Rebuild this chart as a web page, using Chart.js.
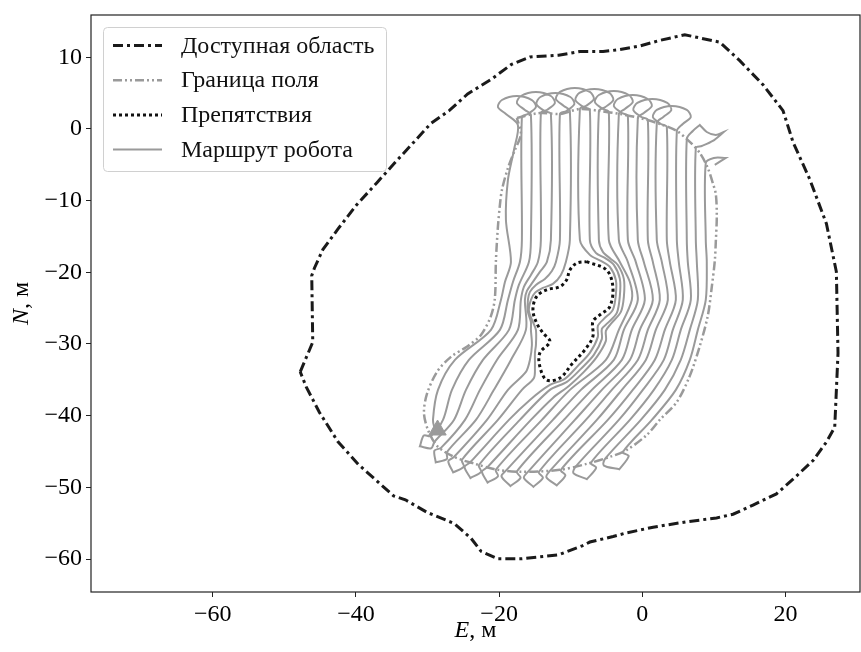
<!DOCTYPE html>
<html>
<head>
<meta charset="utf-8">
<script src="https://cdn.jsdelivr.net/npm/chart.js@4.4.1/dist/chart.umd.min.js"></script>
<style>
  body { margin: 0; background: #fff; }
  canvas { display: block; }
</style>
</head>
<body>
<canvas id="chart" width="861" height="652"></canvas>
<script>
// axis ticks
const xTicks = [-60, -40, -20, 0, 20];
const yTicks = [10, 0, -10, -20, -30, -40, -50, -60];
const legendLabels = ["Доступная область", "Граница поля", "Препятствия", "Маршрут робота"];

// [E, N] in metres
const accessArea = [
  [-47.78,-33.88],[-46.03,-29.74],[-46.17,-20.45],[-45.79,-19.39],[-44.62,-16.82],[-42.50,-13.95],
  [-39.92,-10.60],[-37.10,-7.53],[-34.54,-4.69],[-31.92,-1.84],[-29.56,0.74],[-26.98,2.55],
  [-24.40,4.88],[-21.10,6.93],[-18.28,9.01],[-15.70,10.04],[-11.70,10.29],[-8.72,10.81],
  [-5.47,10.81],[-3.14,11.07],[-0.35,11.58],[2.44,12.36],[5.93,13.14],[10.82,12.11],
  [13.61,9.53],[16.86,6.16],[19.65,2.55],[21.05,-1.84],[23.38,-7.02],[25.71,-13.21],
  [27.10,-19.93],[27.33,-31.28],[26.87,-41.62],[25.71,-43.68],[23.84,-46.26],[21.05,-48.86],
  [18.73,-50.91],[15.46,-52.47],[12.67,-53.75],[10.36,-54.27],[6.17,-54.80],[1.51,-55.56],
  [-2.21,-56.35],[-4.08,-56.86],[-7.33,-57.63],[-8.40,-58.16],[-11.70,-59.41],[-16.86,-59.97],
  [-20.15,-59.97],[-22.51,-58.93],[-23.92,-57.11],[-26.27,-55.05],[-30.04,-53.50],[-33.09,-51.74],
  [-34.74,-51.19],[-37.10,-49.09],[-39.68,-46.78],[-42.50,-43.65],[-45.09,-39.55],[-46.96,-35.94]
];

const fieldBorder = [
  [-17.52,1.53],[-14.31,2.23],[-11.51,2.09],[-8.72,2.79],[-5.93,2.51],[-3.14,2.09],[-0.35,1.53],
  [2.44,0.70],[4.82,-0.28],[6.63,-1.81],[8.03,-3.35],[9.14,-5.44],[9.84,-7.53],[10.26,-9.07],
  [10.40,-12.13],[10.26,-15.76],[10.12,-18.41],[9.70,-22.04],[9.14,-26.08],[8.03,-30.27],
  [6.63,-34.45],[4.82,-38.08],[2.44,-40.59],[0.63,-42.68],[-2.16,-44.77],[-4.54,-45.75],
  [-7.75,-46.72],[-11.51,-47.56],[-16.82,-47.84],[-20.17,-47.56],[-23.38,-46.72],[-26.31,-45.75],
  [-28.68,-44.21],[-29.94,-41.98],[-30.50,-39.61],[-30.08,-36.96],[-28.68,-33.89],[-26.73,-31.80],
  [-24.35,-30.27],[-22.54,-28.73],[-21.14,-26.08],[-20.59,-23.57],[-20.45,-18.41],[-20.17,-13.67],
  [-19.89,-10.60],[-19.61,-8.51],[-18.77,-5.44],[-17.80,-2.93],[-16.96,-0.70]
];

const obstacle = [
  [-7.79,-18.51],[-5.00,-19.67],[-4.12,-22.00],[-4.54,-24.78],[-5.93,-25.94],[-6.91,-26.88],
  [-6.91,-28.97],[-8.03,-30.82],[-9.70,-32.64],[-11.51,-34.73],[-13.37,-35.01],[-14.31,-33.15],
  [-14.31,-31.24],[-12.91,-29.67],[-13.89,-28.45],[-14.77,-27.06],[-15.28,-25.24],[-14.77,-23.39],
  [-13.37,-22.45],[-11.51,-21.99],[-10.58,-21.06],[-10.12,-19.67],[-9.18,-18.73]
];

// boustrophedon passes with loop turns at the top and cusp turns at the bottom
// (a repeated point marks a sharp cusp)
const route = [
  // pass 1 up
  [-28.96,-41.98],[-29.24,-40.59],[-28.54,-36.40],[-26.17,-32.22],[-21.14,-28.03],[-19.75,-23.85],[-19.19,-21.34],[-18.35,-18.55],[-19.05,-12.69],[-18.77,-7.11],[-17.93,-2.93],[-17.38,0.56],
  [-19.05,2.09],[-20.17,3.07],[-19.61,4.04],[-17.52,4.60],[-15.42,4.04],[-14.86,3.07],[-15.98,2.09],
  // pass 2 down
  [-16.82,1.67],[-16.82,-15.48],[-17.10,-18.55],[-18.07,-21.34],[-18.77,-23.85],[-19.89,-28.03],[-24.22,-32.22],[-26.59,-36.40],[-27.84,-40.59],[-29.52,-42.82],
  [-30.52,-42.76],[-31.07,-44.28],[-31.07,-44.28],[-29.48,-44.55],
  // pass 3 up
  [-29.03,-43.66],[-26.31,-40.59],[-24.63,-36.40],[-22.26,-32.22],[-18.63,-28.03],[-17.80,-23.85],[-17.24,-21.76],[-15.84,-18.55],[-15.56,-15.48],[-15.56,1.95],
  [-16.40,2.65],[-17.52,3.63],[-16.96,4.60],[-14.86,5.16],[-12.77,4.60],[-12.21,3.63],[-13.33,2.65],
  // pass 4 down
  [-14.17,2.23],[-14.17,-15.48],[-14.59,-18.55],[-15.56,-20.36],[-16.54,-22.04],[-16.96,-23.85],[-17.38,-28.03],[-20.31,-32.22],[-22.68,-36.40],[-24.77,-40.59],[-28.12,-44.49],
  [-29.04,-44.88],[-28.85,-46.51],[-28.85,-46.51],[-27.29,-46.05],
  // pass 5 up
  [-27.29,-45.08],[-23.24,-40.59],[-20.73,-36.40],[-18.35,-32.22],[-16.26,-28.03],[-16.40,-23.85],[-16.12,-22.59],[-15.28,-21.34],[-14.31,-19.94],[-13.33,-18.55],[-12.77,-15.48],[-12.77,2.09],
  [-13.68,2.51],[-14.79,3.49],[-14.24,4.46],[-12.14,5.02],[-10.05,4.46],[-9.49,3.49],[-10.61,2.51],
  // pass 6 down, along the obstacle (left)
  [-11.51,2.09],[-11.51,-15.48],[-12.07,-18.55],[-12.63,-19.81],[-13.61,-20.92],[-14.86,-21.76],[-15.70,-22.73],[-15.98,-23.85],[-15.98,-25.52],[-15.56,-26.92],[-15.56,-28.03],[-15.42,-30.13],[-15.70,-32.22],[-16.26,-33.89],[-18.77,-36.40],[-21.70,-40.59],[-26.31,-45.77],
  [-27.10,-46.36],[-26.42,-47.92],[-26.42,-47.92],[-24.93,-47.10],
  // pass 7 up, along the obstacle (left)
  [-25.19,-46.15],[-20.17,-40.59],[-16.82,-36.40],[-15.14,-34.73],[-15.00,-33.19],[-15.00,-31.24],[-14.86,-30.13],[-14.86,-28.03],[-15.28,-26.92],[-15.84,-25.38],[-15.56,-23.85],[-15.00,-22.87],[-13.89,-22.18],[-12.49,-21.62],[-11.37,-20.36],[-10.68,-18.55],[-10.12,-15.48],[-10.12,2.51],
  [-10.96,3.21],[-12.07,4.18],[-11.51,5.16],[-9.42,5.72],[-7.33,5.16],[-6.77,4.18],[-7.89,3.21],
  // pass 8 down, along the obstacle (right)
  [-8.72,2.79],[-8.72,-15.48],[-7.33,-17.57],[-5.79,-18.41],[-4.54,-19.25],[-3.70,-21.06],[-3.70,-23.15],[-4.12,-25.24],[-5.37,-26.50],[-6.21,-27.48],[-6.21,-29.01],[-7.33,-31.24],[-9.00,-33.05],[-10.82,-34.87],[-12.91,-35.71],[-15.70,-37.80],[-18.63,-40.59],[-24.08,-46.54],
  [-24.83,-47.17],[-24.01,-48.70],[-24.01,-48.70],[-22.51,-47.82],
  // pass 9 up, along the obstacle (right)
  [-22.82,-46.89],[-17.10,-40.59],[-12.91,-36.40],[-10.54,-35.29],[-8.58,-33.47],[-6.77,-31.52],[-5.65,-29.29],[-5.65,-27.89],[-4.82,-27.06],[-3.56,-25.66],[-3.14,-23.29],[-3.14,-20.92],[-3.98,-18.97],[-5.23,-17.99],[-6.49,-17.29],[-7.33,-15.48],[-7.33,2.65],
  [-8.23,3.07],[-9.35,4.04],[-8.79,5.02],[-6.70,5.58],[-4.61,5.02],[-4.05,4.04],[-5.16,3.07],
  // pass 10 down
  [-6.07,2.51],[-6.07,-15.48],[-5.51,-17.15],[-4.40,-18.13],[-3.42,-18.97],[-2.58,-20.92],[-2.58,-23.43],[-3.00,-25.52],[-4.40,-27.20],[-5.09,-28.17],[-5.09,-29.57],[-6.35,-31.80],[-8.16,-33.89],[-10.26,-35.85],[-12.49,-37.52],[-15.56,-40.59],[-21.63,-47.17],
  [-22.40,-47.80],[-21.62,-49.33],[-21.62,-49.33],[-20.15,-48.45],
  // pass 11 up
  [-20.45,-47.52],[-14.03,-40.59],[-10.12,-36.40],[-5.09,-32.22],[-3.28,-28.03],[-1.47,-23.85],[-1.74,-21.34],[-3.14,-18.55],[-4.68,-15.48],[-4.68,2.37],
  [-5.51,2.79],[-6.63,3.77],[-6.07,4.74],[-3.98,5.30],[-1.88,4.74],[-1.33,3.77],[-2.44,2.79],
  // pass 12 down
  [-3.28,2.09],[-3.28,-15.48],[-2.02,-18.55],[-0.63,-23.85],[-2.58,-28.03],[-3.98,-32.22],[-8.58,-36.40],[-12.49,-40.59],[-19.05,-47.67],
  [-19.67,-48.47],[-18.42,-49.82],[-18.42,-49.82],[-17.01,-48.66],
  // pass 13 up
  [-17.52,-47.78],[-10.96,-40.59],[-7.05,-36.40],[-2.86,-32.22],[-1.47,-28.03],[0.35,-23.85],[-0.91,-18.55],[-2.02,-15.48],[-2.02,1.81],
  [-2.86,2.23],[-3.98,3.21],[-3.42,4.18],[-1.33,4.74],[0.77,4.18],[1.33,3.21],[0.21,2.23],
  // pass 14 down
  [-0.63,1.53],[-0.63,-15.48],[0.21,-18.55],[1.47,-23.85],[-0.35,-28.03],[-1.74,-32.22],[-5.65,-36.40],[-9.42,-40.59],[-15.98,-47.84],
  [-16.54,-48.68],[-15.21,-49.93],[-15.21,-49.93],[-13.89,-48.68],
  // pass 15 up
  [-14.45,-47.84],[-7.89,-40.59],[-4.26,-36.40],[-0.63,-32.22],[0.77,-28.03],[2.44,-23.85],[1.47,-18.55],[0.77,-15.48],[0.77,1.26],
  [-0.14,1.67],[-1.26,2.65],[-0.70,3.63],[1.40,4.18],[3.49,3.63],[4.05,2.65],[2.93,1.67],
  // pass 16 down
  [2.02,0.84],[2.02,-15.48],[2.72,-18.55],[3.56,-23.85],[1.88,-28.03],[0.49,-32.22],[-2.86,-36.40],[-6.35,-40.59],[-12.91,-47.70],
  [-13.40,-48.59],[-11.95,-49.72],[-11.95,-49.72],[-10.75,-48.34],
  // pass 17 up
  [-11.37,-47.56],[-4.82,-40.59],[-1.33,-36.40],[1.74,-32.22],[3.14,-28.03],[4.68,-23.85],[3.84,-18.55],[3.42,-15.48],[3.42,0.28],
  [2.58,0.70],[1.47,1.67],[2.02,2.65],[4.12,3.21],[6.21,2.65],[6.77,1.67],[5.65,0.70],
  // pass 18 down
  [4.82,-0.28],[4.82,-15.48],[5.09,-18.55],[5.65,-23.85],[4.26,-28.03],[3.00,-32.22],[0.07,-36.40],[-3.28,-40.59],[-9.28,-47.07],
  [-9.63,-48.01],[-7.75,-48.86],[-7.75,-48.86],[-6.45,-47.27],
  // pass 19 up
  [-7.19,-46.58],[-1.74,-40.59],[1.61,-36.40],[4.12,-32.22],[5.37,-28.03],[6.77,-23.85],[6.35,-18.55],[6.21,-15.48],[6.21,-1.39],
  [7.05,-0.28],[8.03,0.56],[8.03,0.56],[9.00,-0.42],[10.26,-0.84],[11.37,-0.42],[11.37,-0.42],[9.84,-1.67],[8.30,-2.37],
  // pass 20 down
  [7.47,-2.65],[7.47,-15.48],[7.61,-18.55],[7.75,-23.85],[6.63,-28.03],[5.37,-32.22],[3.14,-36.40],[-0.21,-40.59],[-5.16,-45.96],
  [-5.40,-46.93],[-3.21,-47.48],[-3.21,-47.48],[-1.90,-45.64],
  // pass 21 up
  [-2.72,-45.08],[1.33,-40.59],[4.68,-36.40],[6.63,-32.22],[7.75,-28.03],[8.86,-23.85],[9.00,-18.55],[8.86,-15.48],[8.86,-4.74],
  [9.98,-4.04],[11.65,-4.04],[11.65,-4.04],[10.12,-5.02]
];

const startPoint = [[-28.60, -42.00]];

const toXY = pts => pts.map(([x, y]) => ({ x, y }));
const closed = pts => toXY(pts.concat([pts[0]]));

const FONT = "'Liberation Serif', 'Times New Roman', serif";
const FS = 24;
const GREY = "#9a9a9a";

const lineStyles = [
  { color: "#1a1a1a", width: 3, dash: [10, 4, 3, 4] },
  { color: GREY, width: 2.5, dash: [9, 3, 2, 3, 2, 3] },
  { color: "#111111", width: 3, dash: [3, 3] },
  { color: GREY, width: 2, dash: [] }
];

// frame, axis titles and legend
const decorPlugin = {
  id: "decor",
  afterDraw(chart) {
    const { ctx, chartArea: a } = chart;
    ctx.save();
    ctx.strokeStyle = "#222";
    ctx.lineWidth = 1.2;
    ctx.strokeRect(a.left, a.top, a.right - a.left, a.bottom - a.top);

    ctx.fillStyle = "#000";
    ctx.textBaseline = "middle";
    function title(letter, rest, cx, cy, rot) {
      ctx.save();
      ctx.translate(cx, cy);
      ctx.rotate(rot);
      ctx.font = "italic " + FS + "px " + FONT;
      const w1 = ctx.measureText(letter).width;
      ctx.font = FS + "px " + FONT;
      const w2 = ctx.measureText(rest).width;
      const x0 = -(w1 + w2) / 2;
      ctx.textAlign = "left";
      ctx.font = "italic " + FS + "px " + FONT;
      ctx.fillText(letter, x0, 0);
      ctx.font = FS + "px " + FONT;
      ctx.fillText(rest, x0 + w1, 0);
      ctx.restore();
    }
    title("E", ", м", (a.left + a.right) / 2, 631, 0);
    title("N", ", м", 22, (a.top + a.bottom) / 2, -Math.PI / 2);

    // legend
    ctx.beginPath();
    ctx.roundRect(103.5, 27.5, 283, 144, 4);
    ctx.fillStyle = "rgba(255,255,255,0.85)";
    ctx.fill();
    ctx.strokeStyle = "#d0d0d0";
    ctx.lineWidth = 1;
    ctx.stroke();
    legendLabels.forEach((label, i) => {
      const y = 45.5 + i * 34.7;
      const st = lineStyles[i];
      ctx.beginPath();
      ctx.setLineDash(st.dash);
      ctx.strokeStyle = st.color;
      ctx.lineWidth = st.width;
      ctx.lineCap = "butt";
      ctx.moveTo(113, y);
      ctx.lineTo(162, y);
      ctx.stroke();
      ctx.setLineDash([]);
      ctx.fillStyle = "#111";
      ctx.font = FS + "px " + FONT;
      ctx.textAlign = "left";
      ctx.textBaseline = "middle";
      ctx.fillText(label, 181, y + 1);
    });
    ctx.restore();
  }
};

const minus = v => (v < 0 ? "\u2212" + Math.abs(v) : String(v));

new Chart(document.getElementById("chart"), {
  type: "scatter",
  data: {
    datasets: [
      {
        label: legendLabels[0],
        data: closed(accessArea),
        showLine: true, pointRadius: 0, tension: 0,
        borderColor: lineStyles[0].color, borderWidth: lineStyles[0].width,
        borderDash: lineStyles[0].dash, borderCapStyle: "butt",
        order: 4
      },
      {
        label: legendLabels[1],
        data: closed(fieldBorder),
        showLine: true, pointRadius: 0, tension: 0.3,
        borderColor: lineStyles[1].color, borderWidth: lineStyles[1].width,
        borderDash: lineStyles[1].dash, borderCapStyle: "butt",
        order: 3
      },
      {
        label: legendLabels[2],
        data: closed(obstacle),
        showLine: true, pointRadius: 0, tension: 0.35,
        borderColor: lineStyles[2].color, borderWidth: lineStyles[2].width,
        borderDash: lineStyles[2].dash, borderCapStyle: "butt",
        order: 1
      },
      {
        label: legendLabels[3],
        data: toXY(route),
        showLine: true, pointRadius: 0, tension: 0.3,
        borderColor: lineStyles[3].color, borderWidth: lineStyles[3].width,
        order: 2
      },
      {
        label: "start",
        data: toXY(startPoint),
        pointStyle: "triangle", pointRadius: 10,
        backgroundColor: GREY, borderColor: GREY, borderWidth: 1,
        order: 0
      }
    ]
  },
  options: {
    responsive: false,
    animation: false,
    devicePixelRatio: 1,
    layout: { autoPadding: false, padding: { top: 15, right: 1, left: 0, bottom: 0 } },
    plugins: { legend: { display: false }, tooltip: { enabled: false } },
    scales: {
      x: {
        type: "linear", min: -77, max: 30.4,
        border: { display: false },
        grid: { drawOnChartArea: false, drawTicks: true, tickLength: 5, color: "#222", lineWidth: 1 },
        ticks: { color: "#000", font: { family: FONT, size: FS }, padding: 3, maxRotation: 0, callback: minus },
        afterBuildTicks: s => { s.ticks = xTicks.map(v => ({ value: v })); },
        afterFit: s => { s.height = 60; s.paddingLeft = 0; s.paddingRight = 0; }
      },
      y: {
        type: "linear", min: -64.6, max: 15.9,
        border: { display: false },
        grid: { drawOnChartArea: false, drawTicks: true, tickLength: 5, color: "#222", lineWidth: 1 },
        ticks: { color: "#000", font: { family: FONT, size: FS }, padding: 4, callback: minus },
        afterBuildTicks: s => { s.ticks = yTicks.map(v => ({ value: v })); },
        afterFit: s => { s.width = 91; s.paddingTop = 0; s.paddingBottom = 0; }
      }
    }
  },
  plugins: [decorPlugin]
});
</script>
</body>
</html>
